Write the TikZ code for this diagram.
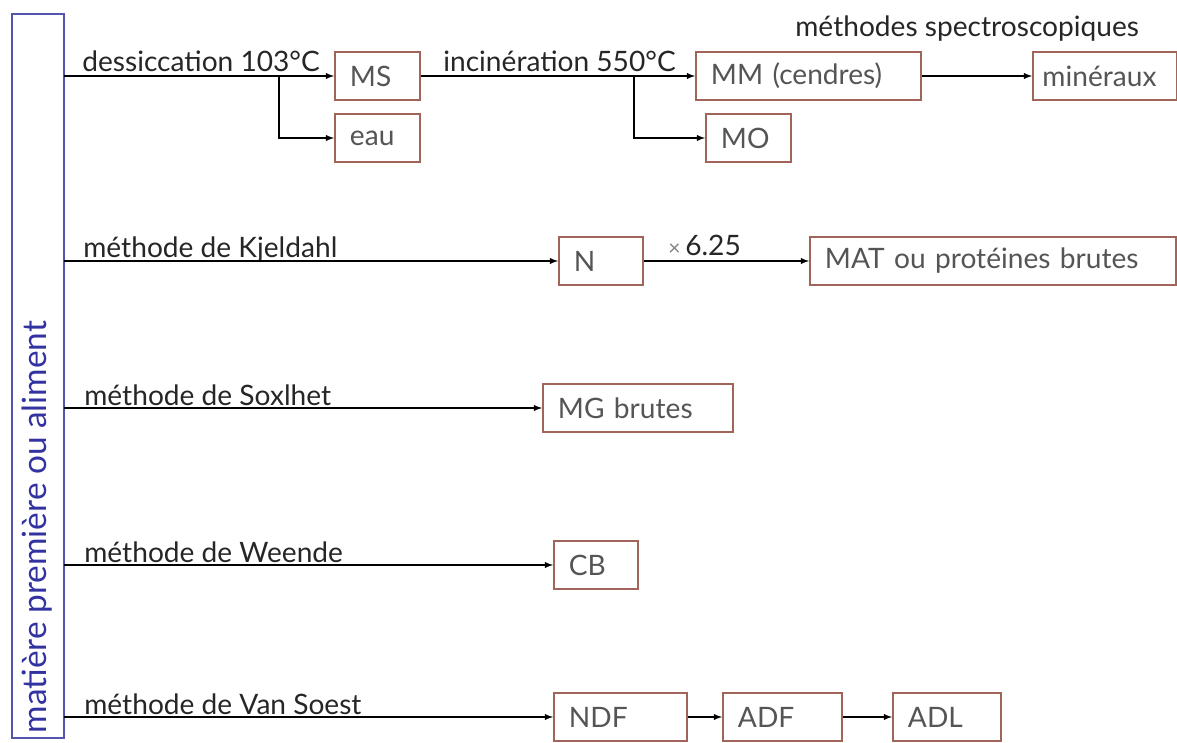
\documentclass[tikz,border=0pt]{standalone}
\usepackage{fontspec}
\setmainfont{Lato}
\definecolor{brique}{RGB}{160,100,88}
\definecolor{grisbox}{RGB}{85,85,85}
\definecolor{bleump}{RGB}{85,85,175}
\definecolor{bleutxt}{RGB}{50,50,160}
\tikzset{
  boite/.style={draw=brique, line width=1.1pt, fill=white, text=grisbox, anchor=west,
    inner xsep=0.3cm, minimum height=0.96cm, text width=#1, align=left,
    font=\fontsize{16}{19}\selectfont},
  etiq/.style={anchor=base west, inner sep=0pt, text=black!85,
    font=\fontsize{16}{19}\selectfont}
}
\begin{document}
\begin{tikzpicture}
[x=0.02cm,y=-0.02cm]
\useasboundingbox (0,0) rectangle (1177,743);

% matiere premiere
\draw[bleump,line width=1.2pt] (12,14) rectangle (64,738);
\node (mp) [rotate=90, text=bleutxt, inner sep=0pt, font=\fontsize{19}{22}\selectfont] at (37,527) {matière première ou aliment};

\foreach \y/\n in {76/1,261/2,408/3,565/4,717/5}
{
  \coordinate (r\n) at (64,\y);
}

% boites
\node (MS)  [boite=1.10cm] at (334,76)  {MS};
\node (eau) [boite=1.10cm] at (334,138) {eau};
\node (MM)  [boite=3.90cm] at (695,76)  {MM (cendres)};
\node (MO)  [boite=1.10cm] at (705,138) {MO};
\node (min) [boite=2.50cm, inner xsep=0.19cm] at (1032,76) {minéraux};
\node (N)   [boite=1.08cm] at (558,261) {N};
\node (MAT) [boite=6.72cm] at (809,261) {MAT ou protéines brutes};
\node (MG)  [boite=3.20cm] at (542,408) {MG brutes};
\node (CB)  [boite=1.08cm] at (553,565) {CB};
\node (NDF) [boite=2.06cm] at (553,717) {NDF};
\node (ADF) [boite=1.78cm] at (722,717) {ADF};
\node (ADL) [boite=1.56cm] at (892,717) {ADL};

% etiquettes
\node (l1) [etiq] at (82,72)   {dessiccation 103°C};
\node (l2) [etiq] at (443,72)  {incinération 550°C};
\node (l3) [etiq] at (795,37)  {méthodes spectroscopiques};
\node (l4) [etiq] at (83,258)  {méthode de Kjeldahl};
\node (l5) [etiq] at (668,256) {{\color{gray}\fontsize{12}{14}\selectfont ×}\,6.25};
\node (l6) [etiq] at (84,405)  {méthode de Soxlhet};
\node (l7) [etiq] at (84,562)  {méthode de Weende};
\node (l8) [etiq] at (84,714)  {méthode de Van Soest};

% fleches
\coordinate (b1) at (279,76);
\coordinate (b2) at (634,76);
\draw[->,>=latex,semithick] (r1) -- (MS.west);
\draw[->,>=latex,semithick] (b1) |- (eau.west);
\draw[->,>=latex,semithick] (MS.east) -- (MM.west);
\draw[->,>=latex,semithick] (b2) |- (MO.west);
\draw[->,>=latex,semithick] (MM.east) -- (min.west);
\draw[->,>=latex,semithick] (r2) -- (N.west);
\draw[->,>=latex,semithick] (N.east) -- (MAT.west);
\draw[->,>=latex,semithick] (r3) -- (MG.west);
\draw[->,>=latex,semithick] (r4) -- (CB.west);
\draw[->,>=latex,semithick] (r5) -- (NDF.west);
\draw[->,>=latex,semithick] (NDF.east) -- (ADF.west);
\draw[->,>=latex,semithick] (ADF.east) -- (ADL.west);
\end{tikzpicture}
\end{document}
